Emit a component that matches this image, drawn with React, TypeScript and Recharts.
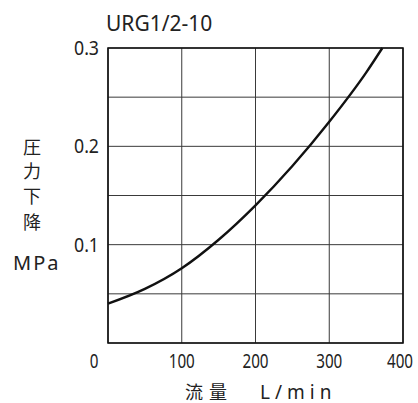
import { LineChart, Line, XAxis, YAxis, CartesianGrid, ReferenceArea } from "recharts";

const flowRates = [0, 50, 100, 150, 200, 250, 300, 350, 372];
const pressureDrops = [0.04, 0.055, 0.076, 0.105, 0.14, 0.18, 0.225, 0.275, 0.3];
const xTicks = [0, 100, 200, 300, 400];
const yTicks = [0, 0.05, 0.1, 0.15, 0.2, 0.25, 0.3];
const yLabeled = [0.1, 0.2, 0.3];

const data = flowRates.map((q, i) => ({ q, p: pressureDrops[i] }));

const tickFont = "'Noto Sans', 'DejaVu Sans', sans-serif";

function XTick(props: any) {
  const { x, y, payload } = props;
  const v = payload.value;
  const label = String(v);
  // the 0 and 400 labels sit a bit left of their grid lines in the original
  const shift = v === 0 ? -14 : v === 400 ? -3 : 0;
  return (
    <text
      x={x + shift}
      y={y + 17}
      textAnchor="middle"
      fontSize={19}
      fontFamily={tickFont}
      fill="#222"
      textLength={label.length * 8.7}
      lengthAdjust="spacingAndGlyphs"
    >
      {label}
    </text>
  );
}

function YTick(props: any) {
  const { y, payload } = props;
  const v = payload.value;
  if (!yLabeled.some((t) => Math.abs(t - v) < 1e-6)) return <g />;
  return (
    <text
      x={99}
      y={y + 7}
      textAnchor="end"
      fontSize={19}
      fontFamily={tickFont}
      fill="#222"
      textLength={25}
      lengthAdjust="spacingAndGlyphs"
    >
      {v.toFixed(1)}
    </text>
  );
}

export default function App() {
  return (
    <div style={{ position: "absolute", left: 0, top: 0, width: 418, height: 403, background: "#fff" }}>
      <LineChart
        width={418}
        height={403}
        data={data}
        margin={{ top: 48, right: 15, bottom: 0, left: 0 }}
      >
        <CartesianGrid stroke="#3a3a3a" strokeWidth={1} />
        <XAxis
          dataKey="q"
          type="number"
          domain={[0, 400]}
          ticks={xTicks}
          axisLine={false}
          tickLine={false}
          tick={<XTick />}
          height={60}
        />
        <YAxis
          type="number"
          domain={[0, 0.3]}
          ticks={yTicks}
          axisLine={false}
          tickLine={false}
          tick={<YTick />}
          width={108}
        />
        <ReferenceArea
          x1={0}
          x2={400}
          y1={0}
          y2={0.3}
          fill="none"
          stroke="#111"
          strokeWidth={1.6}
          ifOverflow="visible"
        />
        <Line
          dataKey="p"
          type="monotone"
          stroke="#111"
          strokeWidth={2.4}
          dot={false}
          isAnimationActive={false}
        />
      </LineChart>
      <svg
        width={418}
        height={403}
        style={{ position: "absolute", left: 0, top: 0, pointerEvents: "none" }}
      >
        <text x={106} y={31} fontSize={21} fontFamily="'Noto Sans', sans-serif" fill="#222">
          URG1/2-10
        </text>
        <g fontSize={18} fontFamily="'Noto Sans CJK JP', sans-serif" fill="#222" textAnchor="middle">
          <text x={32} y={154}>圧</text>
          <text x={32} y={178}>力</text>
          <text x={32} y={203}>下</text>
          <text x={32} y={229}>降</text>
        </g>
        <text x={13} y={270} fontSize={20} letterSpacing={2} fontFamily="'Noto Sans', sans-serif" fill="#222">
          MPa
        </text>
        <text y={399} fontSize={18} fill="#222" fontFamily="'Noto Sans CJK JP', 'Noto Sans', sans-serif">
          <tspan x={185} letterSpacing={6}>流量</tspan>
          <tspan x={260} letterSpacing={5} fontFamily="'Noto Sans', sans-serif" fontSize={19}>L/min</tspan>
        </text>
      </svg>
    </div>
  );
}
